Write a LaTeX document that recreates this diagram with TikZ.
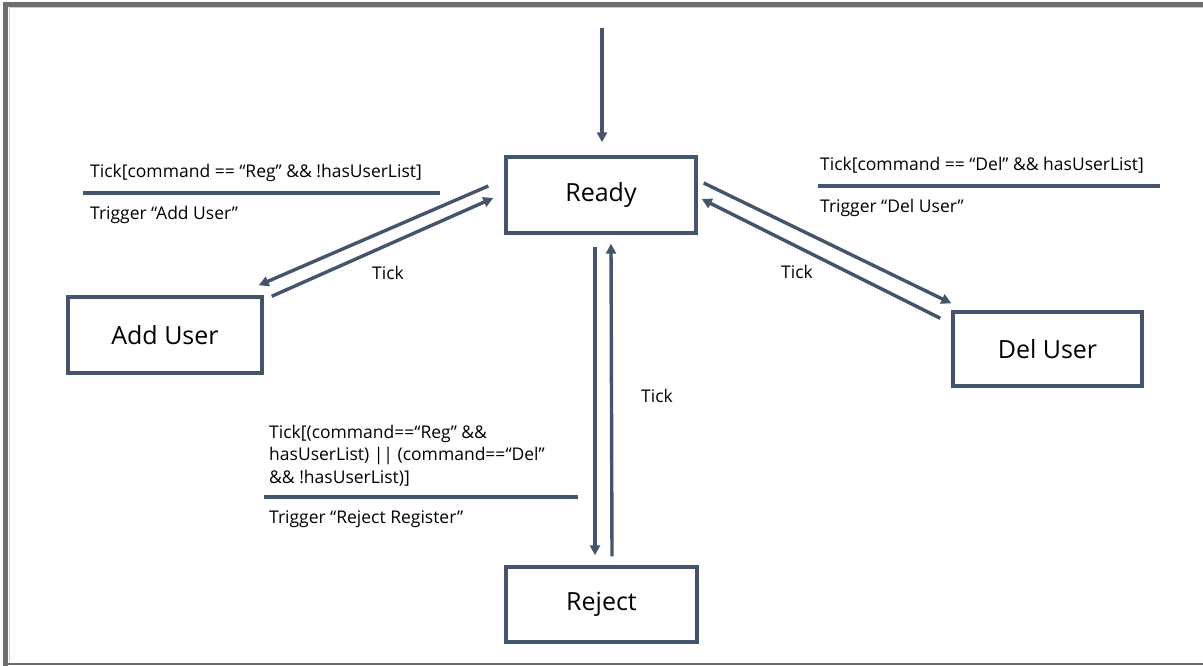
\documentclass[tikz,border=0pt]{standalone}
\usepackage{fontspec}
\setmainfont{Open Sans}
\usetikzlibrary{arrows.meta,calc}
\definecolor{slate}{HTML}{44546A}
\definecolor{framegray}{HTML}{706E6B}
\tikzset{
  state/.style={draw=slate, line width=3.4pt, minimum width=#1, minimum height=76pt, inner sep=0pt, font=\fontsize{25}{30}\selectfont, text=black},
  state/.default=190pt,
  arr/.style={draw=slate, line width=3.4pt, -{Triangle[length=10pt,width=10pt]}},
  lbl/.style={inner sep=0pt, font=\fontsize{17.5}{22}\selectfont, text=black},
  sep/.style={draw=slate, line width=3.2pt},
}
\begin{document}
\begin{tikzpicture}[x=1pt,y=-1pt]
\useasboundingbox (0,0) rectangle (1203,666);
% frame
\fill[framegray] (3,2) rectangle (1203,7);
\fill[framegray] (3,2) rectangle (8,666);
\fill[framegray] (3,663) rectangle (1203,665);
\draw[black!20, line width=1pt] (9,8) -- (1203,8);
\draw[black!20, line width=1pt] (9,8) -- (9,662);
% states
\node[state=190pt] (ready) at (601,195) {Ready};
\node[state=194pt] (add) at (165,335) {Add User};
\node[state=189pt, minimum height=74pt] (del) at (1047.5,349) {Del User};
\node[state=191pt, minimum height=75pt] (reject) at (601.5,604.5) {Reject};
% initial
\coordinate (init) at (602,28);
\draw[arr] (init) -- ($(ready.north)+(1,-13)$);
% Ready <-> Add User
\draw[arr] ($(ready.west)+(-16,-9)$) -- ($(add.north east)+(-5,-10)$);
\draw[arr] ($(add.north east)+(8,1)$) -- ($(ready.west)+(-11,3)$);
% Ready <-> Del User
\draw[arr] ($(ready.east)+(6,-12)$) -- ($(del.north west)+(0,-7)$);
\draw[arr] ($(del.north west)+(-11,8)$) -- ($(ready.east)+(4,4)$);
% Ready <-> Reject
\draw[arr] ($(ready.south)+(-6,12)$) -- ($(reject.north)+(-6.5,-10)$);
\draw[arr] ($(reject.north)+(10.5,-9)$) -- ($(ready.south)+(10,9)$);
% labels
\node[lbl, anchor=west] (l1) at (90,173) {Tick[command == “Reg” \&\& !hasUserList]};
\draw[sep] (83,193) -- (440,193);
\node[lbl, anchor=west] (l1b) at (90,215) {Trigger “Add User”};
\node[lbl] (t1) at (388,273) {Tick};
\node[lbl, anchor=west] (l2) at (820,165) {Tick[command == “Del” \&\& hasUserList]};
\draw[sep] (818,186) -- (1160,186);
\node[lbl, anchor=west] (l2b) at (820,208) {Trigger “Del User”};
\node[lbl] (t2) at (797,272) {Tick};
\node[lbl, anchor=north west, align=left, font=\fontsize{17.5}{22.5}\selectfont] (l3) at (269,425) {Tick[(command==“Reg” \&\&\\hasUserList) || (command==“Del”\\\&\& !hasUserList)]};
\draw[sep] (264,497) -- (578,497);
\node[lbl, anchor=west] (l3b) at (269,519) {Trigger “Reject Register”};
\node[lbl] (t3) at (657,396) {Tick};
\end{tikzpicture}
\end{document}
